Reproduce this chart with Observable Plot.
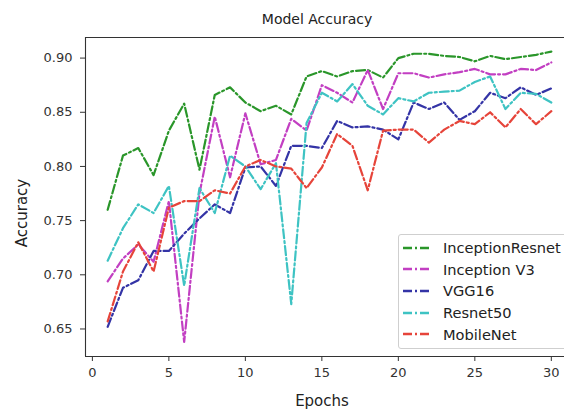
<!DOCTYPE html>
<html><head><meta charset="utf-8">
<script src="https://cdn.jsdelivr.net/npm/d3@7"></script>
<script src="https://cdn.jsdelivr.net/npm/@observablehq/plot@0.6"></script>
<style>
html,body{margin:0;padding:0;background:#fff;overflow:hidden;}
#wrap{position:relative;width:564px;height:410px;overflow:hidden;font-family:"DejaVu Sans",sans-serif;color:#222;}
#wrap > svg{position:absolute;left:0;top:0;}
.lab{position:absolute;white-space:nowrap;font-size:14px;color:#222;}
#legend{position:absolute;left:398px;top:234px;width:190px;height:113px;border:1px solid #cfcfcf;border-radius:3px;background:rgba(255,255,255,0.85);}
.row{position:absolute;left:0;height:20px;display:flex;align-items:center;font-size:14.6px;color:#222;white-space:nowrap;}
.row svg{margin-left:4px;margin-right:14px;}
</style>
</head><body>
<div id="wrap"></div>
<script>
const epochs = [1,2,3,4,5,6,7,8,9,10,11,12,13,14,15,16,17,18,19,20,21,22,23,24,25,26,27,28,29,30];
const seriesNames = ["InceptionResnet","Inception V3","VGG16","Resnet50","MobileNet"];
const seriesColors = ["#2a962a","#c23fc2","#3434a6","#3ec3c3","#e6443a"];
const inceptionResnet = [0.760,0.810,0.817,0.792,0.833,0.858,0.797,0.866,0.873,0.859,0.851,0.856,0.848,0.883,0.888,0.883,0.888,0.889,0.882,0.900,0.904,0.904,0.902,0.901,0.897,0.902,0.899,0.901,0.903,0.906];
const inceptionV3 = [0.694,0.715,0.728,0.712,0.768,0.638,0.775,0.846,0.790,0.849,0.802,0.806,0.844,0.833,0.875,0.868,0.859,0.889,0.853,0.886,0.886,0.882,0.885,0.887,0.890,0.885,0.885,0.890,0.889,0.896];
const vgg16 = [0.652,0.688,0.695,0.722,0.722,0.738,0.752,0.765,0.757,0.799,0.800,0.782,0.819,0.819,0.817,0.842,0.836,0.837,0.834,0.825,0.859,0.853,0.859,0.843,0.851,0.868,0.863,0.873,0.866,0.872];
const resnet50 = [0.713,0.743,0.765,0.757,0.782,0.690,0.780,0.757,0.810,0.800,0.779,0.803,0.673,0.840,0.868,0.860,0.876,0.856,0.848,0.863,0.860,0.868,0.869,0.870,0.878,0.883,0.853,0.868,0.867,0.859];
const mobileNet = [0.657,0.703,0.730,0.703,0.762,0.768,0.768,0.778,0.775,0.800,0.806,0.800,0.798,0.780,0.799,0.830,0.819,0.778,0.833,0.834,0.834,0.822,0.834,0.842,0.839,0.850,0.836,0.853,0.839,0.851];
const xTicks = [0,5,10,15,20,25,30];
const yTicks = [0.65,0.70,0.75,0.80,0.85,0.90];
const xDomain = [-0.45, 31.45];
const yDomain = [0.6246, 0.919];
const title = "Model Accuracy";
const xLabel = "Epochs";
const yLabel = "Accuracy";

const allSeries = [inceptionResnet, inceptionV3, vgg16, resnet50, mobileNet];
const rows = [];
allSeries.forEach((vals, i) => vals.forEach((v, j) => rows.push({model: seriesNames[i], epoch: epochs[j], acc: v})));
const dash = "9,3,2,3";

const chart = Plot.plot({
  width: 564, height: 410,
  marginLeft: 85, marginRight: -9, marginTop: 37, marginBottom: 54,
  style: {fontFamily: "DejaVu Sans, sans-serif", fontSize: "13px", color: "#333", background: "transparent", overflow: "visible"},
  x: {domain: xDomain, ticks: xTicks, tickSize: 5, tickPadding: 6, label: null},
  y: {domain: yDomain, ticks: yTicks, tickFormat: d3.format(".2f"), tickSize: 5, tickPadding: 8, label: null},
  color: {domain: seriesNames, range: seriesColors},
  marks: [
    Plot.ruleY([yDomain[0], yDomain[1]], {stroke: "#333", strokeWidth: 1.1}),
    Plot.ruleX([xDomain[0]], {stroke: "#333", strokeWidth: 1.1}),
    Plot.line(rows, {x: "epoch", y: "acc", z: "model", stroke: "model", strokeWidth: 2.2, strokeDasharray: dash, strokeLinejoin: "round"})
  ]
});
const wrap = document.getElementById("wrap");
wrap.appendChild(chart);

function addLab(text, css) {
  const d = document.createElement("div");
  d.className = "lab"; d.textContent = text; d.style.cssText = css;
  wrap.appendChild(d);
}
addLab(title, "left:317px;top:11px;transform:translateX(-50%);");
addLab(xLabel, "left:322px;top:392px;transform:translateX(-50%);font-size:15px;");
addLab(yLabel, "left:22px;top:213px;transform:translate(-50%,-50%) rotate(-90deg);font-size:15px;");

const leg = document.createElement("div");
leg.id = "legend";
seriesNames.forEach((name, i) => {
  const r = document.createElement("div");
  r.className = "row";
  r.style.top = (2.5 + i * 21.7) + "px";
  r.innerHTML = `<svg width="26" height="6"><line x1="0" y1="3" x2="26" y2="3" stroke="${seriesColors[i]}" stroke-width="2.4" stroke-dasharray="${dash}"/></svg><span>${name}</span>`;
  leg.appendChild(r);
});
wrap.appendChild(leg);
</script>
</body></html>
